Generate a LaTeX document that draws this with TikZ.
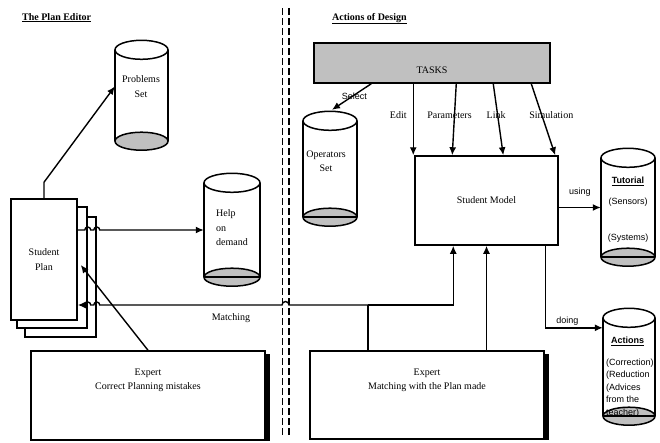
\documentclass[tikz,border=0pt]{standalone}
\usepackage{fontspec}
\setmainfont{Liberation Serif}
\setsansfont{Liberation Sans}
\usetikzlibrary{arrows.meta,positioning,calc}
\definecolor{drumgray}{RGB}{192,192,192}

% cylinder round an empty node: [bottom line] {node} {half width}
\newcommand{\drum}[3][draw]{%
  \draw[line width=1.5pt] (#2.north west) -- (#2.south west) (#2.north east) -- (#2.south east);
  \draw[line width=1.5pt, fill=drumgray] (#2.south) ellipse [x radius=#3pt, y radius=9pt];
  \path[#1, line width=1.5pt] (#2.south west) -- (#2.south east);
  \draw[line width=1.5pt, fill=white] (#2.north) ellipse [x radius=#3pt, y radius=9.5pt];
}

\begin{document}
\begin{tikzpicture}[x=1pt, y=-1pt]
    \tikzstyle{box} = [rectangle, draw, line width=1.5pt, inner sep=0pt, align=center, font=\fontsize{10}{14.5}\selectfont]
    \tikzstyle{drumbody} = [rectangle, inner sep=0pt]
    \tikzstyle{txt} = [inner sep=0pt, align=center, font=\fontsize{10}{14.5}\selectfont]
    \tikzstyle{stxt} = [inner sep=0pt, font=\sffamily\fontsize{9}{12.5}\selectfont]
    \tikzstyle{arrow} = [line width=1.4pt, ->, >={Latex[length=8pt, width=7pt]}]
    \tikzstyle{wire} = [line width=1.4pt]
    \tikzstyle{partline} = [line width=1.3pt, dash pattern=on 7pt off 3pt]

    \useasboundingbox (0,0) rectangle (660,442);

    % titles
    \node[txt, anchor=base west] (edtitle) at (22,20) {\underline{\textbf{The Plan Editor}}};
    \node[txt, anchor=base west] (dstitle) at (332,20) {\underline{\textbf{Actions of Design}}};

    % separator
    \draw[partline] (282.5,8) -- (282.5,437);
    \draw[partline] (289,8) -- (289,437);

    % plan editor side
    \node[box, fill=white, minimum width=71pt, minimum height=120pt] (plan3) at (60.5,277) {};
    \node[box, fill=white, minimum width=70pt, minimum height=121pt] (plan2) at (52,267.5) {};
    \node[box, fill=white, minimum width=66pt, minimum height=121pt] (plan) at (44,259.5) {Student\\Plan};

    \node[drumbody, minimum width=53pt, minimum height=91pt] (probs) at (141.5,95.5) {};
    \drum[draw=none]{probs}{26.5}
    \node[txt] (probs-txt) at (141,86.5) {Problems\\Set};

    \node[drumbody, minimum width=56pt, minimum height=94pt] (help) at (232,230) {};
    \drum{help}{28}
    \node[txt, align=left, anchor=west] (help-txt) at (216,228) {Help\\on\\demand};

    \node[box, minimum width=234pt, minimum height=89pt] (xcorr) at (148,395.5) {};
    \fill ($(xcorr.north east)+(0,4)$) rectangle ($(xcorr.south east)+(4,0)$);
    \node[txt, below=18pt of xcorr.north] (xcorr-txt) {Expert\\Correct Planning mistakes};

    % design side
    \node[box, fill=drumgray, minimum width=236pt, minimum height=40pt] (tasks) at (432,63) {};
    \node[txt] (tasks-txt) at (432,70) {TASKS};

    \node[drumbody, minimum width=54pt, minimum height=96pt] (ops) at (330,169) {};
    \drum{ops}{27}
    \node[txt] (ops-txt) at (326,161) {Operators\\Set};

    \node[box, minimum width=143pt, minimum height=89pt] (model) at (486.5,200.5) {Student Model};

    \node[drumbody, minimum width=54pt, minimum height=99pt] (tutor) at (628,207.5) {};
    \drum{tutor}{27}
    \node[stxt, align=center, anchor=north] (tutor-txt) at (628,176.5) {\underline{\textbf{Tutorial}}\\[8.5pt](Sensors)\\[23.5pt](Systems)};

    \node[drumbody, minimum width=52pt, minimum height=98pt] (acts) at (629,367) {};
    \drum{acts}{26}
    \node[stxt, align=left, anchor=north west] (acts-txt) at (606,336.5) {\hspace{5pt}\underline{\textbf{Actions}}\\[9.5pt](Correction)\\(Reduction\\(Advices\\from the\\teacher)};

    \node[box, minimum width=234pt, minimum height=88pt] (xmatch) at (427,395) {};
    \fill ($(xmatch.north east)+(0,4)$) rectangle ($(xmatch.south east)+(4,0)$);
    \node[txt, below=18pt of xmatch.north] (xmatch-txt) {Expert\\Matching with the Plan made};

    % plan editor links
    \draw[arrow] (plan.north) -- ++(0,-16) -- ($(probs.west)+(0,-9)$);
    \draw[arrow] (plan.east |- help.west) -- ($(plan2.east |- help.west)+(-3,0)$) arc[start angle=180, end angle=0, radius=3pt]
        -- ($(plan3.east |- help.west)+(-3,0)$) arc[start angle=180, end angle=0, radius=3pt] -- (help.west);
    \draw[arrow] (xcorr.north) -- ($(plan.east)+(3,5.5)$);

    % tasks
    \draw[arrow] ($(tasks.south west)+(58,0)$) -- node[stxt, pos=0.48, xshift=2pt] (select-lbl) {Select} ($(ops.north)+(2,-11)$);
    \draw[arrow] ($(tasks.south west)+(100,0)$) -- node[txt, pos=0.44, left=6pt] (edit-lbl) {Edit} ($(model.north west)+(-1,0)$);
    \draw[arrow] ($(tasks.south west)+(143,0)$) -- node[txt, pos=0.44, xshift=-5pt] (param-lbl) {Parameters} ($(model.north west)+(38,0)$);
    \draw[arrow] ($(tasks.south west)+(180,0)$) -- node[txt, pos=0.44, xshift=-1.5pt] (link-lbl) {Link} ($(model.north west)+(89,0)$);
    \draw[arrow] ($(tasks.south west)+(218,0)$) -- node[txt, pos=0.44, xshift=9.5pt] (sim-lbl) {Simulation} ($(model.north west)+(141,0)$);

    % student model links
    \draw[arrow] (model.east |- tutor.west) -- node[stxt, above=10pt] (using-lbl) {using} (tutor.west);
    \draw[arrow] ($(model.south east)+(-13,0)$) |- node[stxt, pos=0.69, above=1.5pt] (doing-lbl) {doing} ($(acts.north west)+(0,10)$);
    \draw[arrow] (xmatch.north -| model.south) -- (model.south);

    % matching
    \coordinate (msplit) at (368,305);
    \draw[wire] (xmatch.north -| msplit) -- (msplit);
    \draw[arrow] (msplit) -| ($(model.south west)+(39,0)$);
    \draw[arrow] (msplit) -- (289,305) arc[start angle=0, end angle=180, radius=3.5pt]
        -- node[txt, pos=0.28, below=8pt] (match-lbl) {Matching} ($(plan3.east |- msplit)+(3,0)$) arc[start angle=0, end angle=180, radius=3pt]
        -- ($(plan2.east |- msplit)+(3,0)$) arc[start angle=0, end angle=180, radius=3pt] -- (plan.east |- msplit);
\end{tikzpicture}
\end{document}
